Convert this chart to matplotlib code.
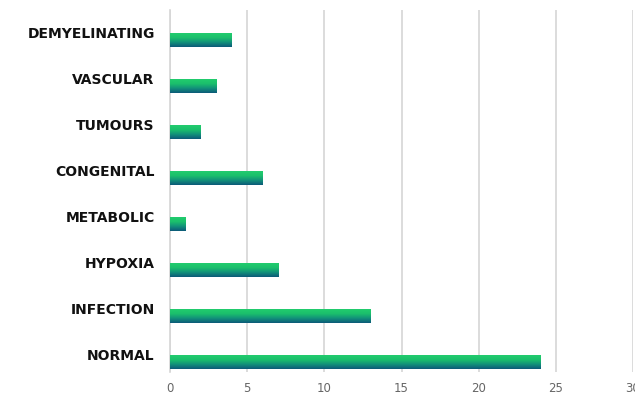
import matplotlib.pyplot as plt
import numpy as np
from matplotlib.colors import LinearSegmentedColormap

# Case counts per diagnosis group
categories = ["NORMAL", "INFECTION", "HYPOXIA", "METABOLIC",
              "CONGENITAL", "TUMOURS", "VASCULAR", "DEMYELINATING"]
counts = [24, 13, 7, 1, 6, 2, 3, 4]

x_ticks = [0, 5, 10, 15, 20, 25, 30]

fig = plt.figure(figsize=(6.35, 3.94), dpi=100)
ax = fig.add_axes([170 / 635, 22 / 394, 463 / 635, 362 / 394])

# vertical gradient: green on top fading to teal at the bottom
cmap = LinearSegmentedColormap.from_list(
    "bar_grad", ["#0c5a78", "#12907a", "#1bbf6c", "#22cc6e"])
grad = np.linspace(0, 1, 64).reshape(-1, 1)

ypos = np.arange(len(categories))
bar_h = 0.30
for y, v in zip(ypos, counts):
    ax.imshow(grad, cmap=cmap, origin="lower", aspect="auto",
              extent=[0, v, y - bar_h / 2, y + bar_h / 2], zorder=3)

ax.set_xlim(0, 30)
ax.set_ylim(-0.22, 7.65)

ax.set_xticks(x_ticks)
ax.set_xticklabels([str(t) for t in x_ticks], fontsize=8.5, color="#666666",
                   family="DejaVu Sans")
ax.tick_params(axis="x", length=0, pad=7)

# category names sit a little above each bar
ax.set_yticks(ypos + 0.16)
ax.set_yticklabels(categories, fontsize=10, fontweight="bold",
                   family="DejaVu Sans", color="#111111")
ax.tick_params(axis="y", length=0, pad=11)

ax.grid(axis="x", color="#d6d6d6", linewidth=1.2, zorder=0)
for side in ["top", "right", "bottom"]:
    ax.spines[side].set_visible(False)
ax.spines["left"].set_color("#d6d6d6")
ax.spines["left"].set_linewidth(1.2)

fig.savefig("out.png", dpi=100)
